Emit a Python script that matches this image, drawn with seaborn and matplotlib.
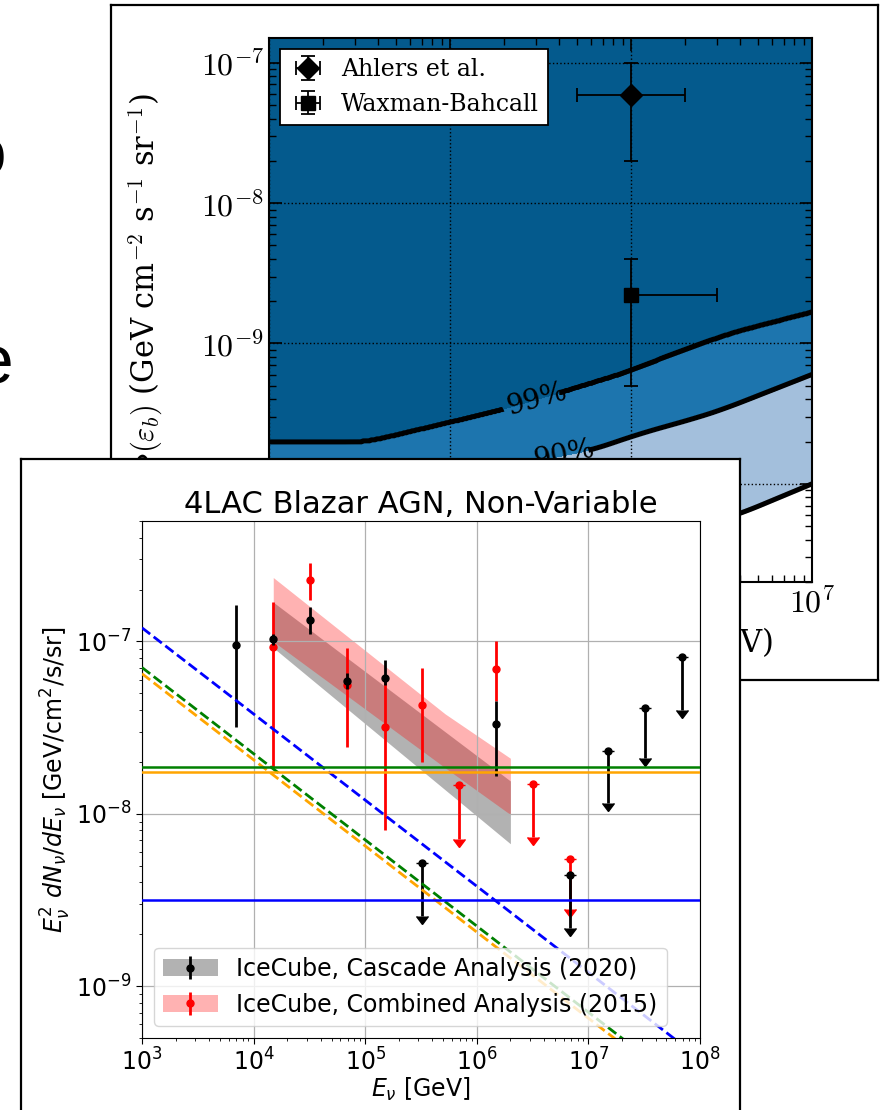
import numpy as np
import matplotlib
matplotlib.use("Agg")
import matplotlib.pyplot as plt
import seaborn as sns
from matplotlib.patches import Patch

W, H = 882, 1110

# ---------------- background chart (contour limits) ----------------
c99_logE = [4.0, 4.53, 5.0, 5.276, 5.652, 5.994, 6.243, 6.552, 7.0]
c99_logF = [-9.707, -9.707, -9.564, -9.479, -9.336, -9.200, -9.071, -8.929, -8.779]
c90_logE = [4.0, 5.0, 5.387, 5.773, 6.05, 6.365, 6.508, 7.0]
c90_logF = [-10.05, -9.94, -9.857, -9.764, -9.643, -9.529, -9.47, -9.221]
c68_logE = [4.0, 5.0, 6.0, 6.602, 7.0]
c68_logF = [-10.72, -10.62, -10.45, -10.214, -10.0]
cl_levels = [0.68, 0.90, 0.99]
cl_labels = {0.90: "90%", 0.99: "99%"}

model_names = ["Ahlers et al.", "Waxman-Bahcall"]
model_E = [1e6, 1e6]
model_F = [5.9e-8, 2.2e-9]
model_Elo = [5e5, 1e6]
model_Ehi = [2e6, 3e6]
model_Flo = [2e-8, 5e-10]
model_Fhi = [1e-7, 4e-9]

# ---------------- front chart (4LAC Blazar AGN) ----------------
casc_E = [6.9e3, 1.5e4, 3.2e4, 6.9e4, 1.5e5, 1.5e6]
casc_F = [9.6e-8, 1.03e-7, 1.34e-7, 5.9e-8, 6.1e-8, 3.3e-8]
casc_lo = [3.2e-8, 9.5e-8, 1.11e-7, 5.3e-8, 5.6e-8, 1.66e-8]
casc_hi = [1.62e-7, 1.10e-7, 1.58e-7, 6.6e-8, 7.8e-8, 4.5e-8]
casc_ul_E = [3.2e5, 6.8e6, 1.5e7, 3.2e7, 6.9e7]
casc_ul_F = [5.2e-9, 4.4e-9, 2.32e-8, 4.1e-8, 8.1e-8]
casc_ul_end = [2.55e-9, 2.16e-9, 1.15e-8, 2.1e-8, 4.0e-8]

comb_E = [1.5e4, 3.2e4, 6.9e4, 1.5e5, 3.2e5, 1.5e6]
comb_F = [9.3e-8, 2.26e-7, 5.6e-8, 3.2e-8, 4.25e-8, 6.9e-8]
comb_lo = [1.85e-8, 1.73e-7, 2.45e-8, 8.1e-9, 2.0e-8, 4.5e-8]
comb_hi = [1.69e-7, 2.84e-7, 9.2e-8, 6.2e-8, 7.0e-8, 1.0e-7]
comb_ul_E = [6.9e5, 3.2e6, 6.8e6]
comb_ul_F = [1.46e-8, 1.48e-8, 5.5e-9]
comb_ul_end = [7.1e-9, 7.3e-9, 2.8e-9]

casc_band_E = [1.5e4, 2.0e6]
casc_band_lo = [9.2e-8, 6.7e-9]
casc_band_hi = [1.69e-7, 1.55e-8]
comb_band_E = [1.5e4, 5.2e5, 2.0e6]
comb_band_lo = [1.0e-7, 1.85e-8, 9.9e-9]
comb_band_hi = [2.35e-7, 3.8e-8, 2.1e-8]

dash_E = [1e3, 1e8]
dash_blue = [1.2e-7, 3.8e-10]
dash_green = [7.06e-8, 2.23e-10]
dash_orange = [6.5e-8, 2.06e-10]
flat_green = 1.87e-8
flat_orange = 1.75e-8
flat_blue = 3.16e-9

legend_labels = ["IceCube, Cascade Analysis (2020)", "IceCube, Combined Analysis (2015)"]

DARK, MID, LIGHT = "#045a8d", "#1d75ae", "#a3bfdc"


def rect(l, t, r, b):
    return [l / W, 1 - b / H, (r - l) / W, (b - t) / H]


def smooth_curve(grid, xs, ys, win=31):
    """Dense piecewise-linear curve through the read points, with rounded corners."""
    y = np.interp(grid, xs, ys)
    pad = win // 2
    yp = np.concatenate([np.full(pad, y[0]) + (y[0] - y[pad:0:-1]),
                         y, np.full(pad, y[-1]) + (y[-1] - y[-2:-pad - 2:-1])])
    return np.convolve(yp, np.ones(win) / win, mode="valid")


fig = plt.figure(figsize=(W / 100, H / 100), dpi=100)

# ---- background slide frame ----
pan_bg = fig.add_axes(rect(111, 5, 878, 680), zorder=0)
pan_bg.set_xticks([]); pan_bg.set_yticks([])
for s in pan_bg.spines.values():
    s.set_linewidth(1.6); s.set_color("black")

cm_rc = {"font.family": "serif", "font.serif": ["cmr10"], "mathtext.fontset": "cm",
         "axes.unicode_minus": False, "axes.formatter.use_mathtext": True}
with plt.rc_context(cm_rc):
    ax_bg = fig.add_axes(rect(269, 38, 812, 582), zorder=1)
    ax_bg.set_xscale("log"); ax_bg.set_yscale("log")
    ax_bg.set_xlim(1e4, 1e7); ax_bg.set_ylim(2e-11, 1.5e-7)
    lx = np.linspace(4, 7, 400)
    ly = np.linspace(-11, -6.7, 600)
    A = smooth_curve(lx, c68_logE, c68_logF)
    B = smooth_curve(lx, c90_logE, c90_logF)
    C = smooth_curve(lx, c99_logE, c99_logF)
    Z = np.empty((ly.size, lx.size))
    for j in range(lx.size):
        Z[:, j] = np.interp(ly, [-12, A[j], B[j], C[j], -6],
                            [0, cl_levels[0], cl_levels[1], cl_levels[2], 1.0])
    X, Y = 10 ** lx, 10 ** ly
    ax_bg.contourf(X, Y, Z, levels=[0] + cl_levels + [1.0], colors=["white", LIGHT, MID, DARK])
    ax_bg.contour(X, Y, Z, levels=cl_levels[:1], colors="black", linewidths=3.6)
    cs = ax_bg.contour(X, Y, Z, levels=cl_levels[1:], colors="black", linewidths=3.6)
    ax_bg.clabel(cs, fmt=cl_labels, inline=True, fontsize=20,
                 manual=[(10 ** 5.6, 10 ** -9.80), (10 ** 5.45, 10 ** -9.41)])
    ax_bg.grid(True, which="major", color="black", ls=":", lw=1.0)
    for name, mk, ms, E, F, elo, ehi, flo, fhi in zip(model_names, ["D", "s"], [11, 10],
                                                      model_E, model_F, model_Elo, model_Ehi,
                                                      model_Flo, model_Fhi):
        ax_bg.errorbar([E], [F], xerr=[[E - elo], [ehi - E]], yerr=[[F - flo], [fhi - F]],
                       fmt=mk, color="black", ms=ms, elinewidth=1.3, capsize=5, capthick=1.3,
                       label=name, zorder=4)
    ax_bg.set_xlim(1e4, 1e7); ax_bg.set_ylim(2e-11, 1.5e-7)
    leg = ax_bg.legend(loc="upper left", fontsize=17, fancybox=False, framealpha=1,
                       edgecolor="black", numpoints=1, borderaxespad=0.45,
                       handlelength=1.6, handletextpad=0.6)
    leg.get_frame().set_linewidth(1.3)
    ax_bg.tick_params(which="both", direction="in", top=True, right=True, labelsize=23)
    ax_bg.tick_params(which="major", length=9, width=1.2)
    ax_bg.tick_params(which="minor", length=5, width=1.0)
    for s in ax_bg.spines.values():
        s.set_linewidth(1.5)
    ax_bg.set_ylabel(r"$\Phi(\varepsilon_b)$ (GeV cm$^{-2}$ s$^{-1}$ sr$^{-1}$)", fontsize=22)
    ax_bg.yaxis.label.set_horizontalalignment("right")
    ax_bg.yaxis.set_label_coords((165 - 269) / 543, (582 - 93) / 544)
    ax_bg.set_xlabel(r"Break energy $\varepsilon_b$ (GeV)", fontsize=22)
    ax_bg.xaxis.label.set_horizontalalignment("right")
    ax_bg.xaxis.label.set_verticalalignment("center")
    ax_bg.xaxis.set_label_coords((773 - 269) / 543, -(643 - 582) / 544)
    for axis in (ax_bg.xaxis, ax_bg.yaxis):
        for t in axis.get_major_ticks() + axis.get_minor_ticks():
            t.label1.set_fontfamily("cmr10"); t.label1.set_math_fontfamily("cm")

# ---- front panel ----
pan_fr = fig.add_axes(rect(21, 459, 740, 1114), zorder=2)
pan_fr.set_xticks([]); pan_fr.set_yticks([])
pan_fr.set_facecolor("white")
for s in pan_fr.spines.values():
    s.set_linewidth(1.6); s.set_color("black")

ax = fig.add_axes(rect(142, 521, 700, 1038), zorder=3)
ax.set_xscale("log"); ax.set_yscale("log")
ax.grid(True, which="major", color="#b0b0b0", lw=0.9)

ax.fill_between(casc_band_E, casc_band_lo, casc_band_hi, color="gray", alpha=0.6, lw=0)
ax.fill_between(comb_band_E, comb_band_lo, comb_band_hi, color="red", alpha=0.3, lw=0)


def yerr(F, lo, hi):
    F, lo, hi = map(np.asarray, (F, lo, hi))
    return [F - lo, hi - F]


eb_red = ax.errorbar(comb_E, comb_F, yerr=yerr(comb_F, comb_lo, comb_hi), fmt="o", color="red",
                     ms=5, elinewidth=2, zorder=2.2)
ax.errorbar(comb_ul_E, comb_ul_F, yerr=np.asarray(comb_ul_F) - np.asarray(comb_ul_end), uplims=True,
            fmt="o", color="red", ms=5, elinewidth=2, capsize=4, zorder=2.2)
eb_black = ax.errorbar(casc_E, casc_F, yerr=yerr(casc_F, casc_lo, casc_hi), fmt="o", color="black",
                       ms=5, elinewidth=2, zorder=2.4)
ax.errorbar(casc_ul_E, casc_ul_F, yerr=np.asarray(casc_ul_F) - np.asarray(casc_ul_end), uplims=True,
            fmt="o", color="black", ms=5, elinewidth=2, capsize=4, zorder=2.4)

for vals, col in [(dash_blue, "blue"), (dash_green, "green"), (dash_orange, "orange")]:
    sns.lineplot(x=dash_E, y=vals, ax=ax, color=col, linestyle="--", linewidth=2, zorder=3)
for val, col in [(flat_green, "green"), (flat_orange, "orange"), (flat_blue, "blue")]:
    ax.axhline(val, color=col, lw=1.8, zorder=3)

ax.set_xlim(1e3, 1e8); ax.set_ylim(5e-10, 5e-7)
ax.tick_params(which="major", labelsize=17, length=4)
ax.tick_params(which="minor", length=2.5)
ax.set_title("4LAC Blazar AGN, Non-Variable", fontsize=22)
ax.set_xlabel(r"$E_\nu$ [GeV]", fontsize=17, labelpad=0)
ax.set_ylabel(r"$E_\nu^2\ dN_\nu/dE_\nu$ [GeV/cm$^2$/s/sr]", fontsize=17, labelpad=2)

h1 = (Patch(facecolor="gray", alpha=0.6, lw=0), eb_black)
h2 = (Patch(facecolor="red", alpha=0.3, lw=0), eb_red)
ax.legend([h1, h2], legend_labels, loc="lower left", fontsize=17, handlelength=2.3)

# ---- slide text fragments at the left edge ----
fig.text(6 / W, 1 - 158 / H, "o", ha="right", va="center", fontsize=50, family="Liberation Sans")
fig.text(14 / W, 1 - 366 / H, "e", ha="right", va="center", fontsize=50, family="Liberation Sans")

fig.savefig("out.png", dpi=100)
